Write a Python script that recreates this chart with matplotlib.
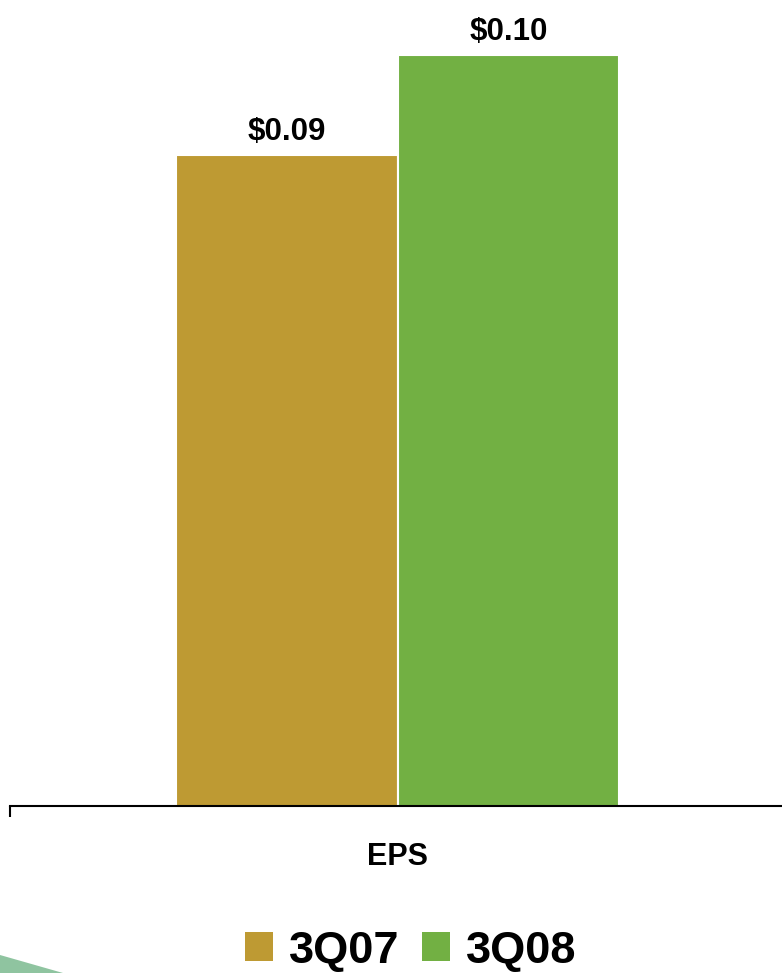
import matplotlib
matplotlib.use('Agg')
import matplotlib.pyplot as plt
from matplotlib.patches import Patch, Polygon
from matplotlib.font_manager import FontProperties

plt.rcParams['font.family'] = ['Liberation Sans', 'DejaVu Sans']

category = 'EPS'
periods  = ['3Q07', '3Q08']
eps      = [0.09, 0.10]
colors   = ['#BE9A33', '#72B043']

W, H = 782, 973
fig = plt.figure(figsize=(W / 100, H / 100), dpi=100)
ax  = fig.add_axes([10 / W, 167 / H, 772 / W, 806 / H])

offsets = [-0.5, 0.5]
for off, val, col in zip(offsets, eps, colors):
    ax.bar(off, val, width=1.0, color=col, edgecolor='white', linewidth=1.5)
    ax.text(off, val + 0.0008, f'${val:.2f}', ha='center', va='bottom',
            fontsize=22.5, fontweight='bold')

xmin, xmax = -1.752, 1.735
ax.set_xlim(xmin, xmax)
ax.set_ylim(0.025, 0.1055)

for s in ['top', 'right', 'left']:
    ax.spines[s].set_visible(False)
ax.spines['bottom'].set_linewidth(1.5)
ax.set_yticks([])
ax.set_xticks([0])
ax.set_xticklabels([category], fontsize=22, fontweight='bold')
ax.tick_params(axis='x', length=0, pad=26)
ax.set_xticks([xmin], minor=True)
ax.tick_params(axis='x', which='minor', length=8, width=1.5, direction='out')

handles = [Patch(facecolor=c, edgecolor='none') for c in colors]
legend_font = FontProperties(family=['Liberation Sans', 'DejaVu Sans'],
                             weight='bold', size=32.5)
fig.legend(handles, periods, loc='center', bbox_to_anchor=(411 / W, 1 - 951 / H),
           ncol=2, frameon=False, prop=legend_font,
           handlelength=0.62, handleheight=0.62, handletextpad=0.36,
           columnspacing=0.49, borderpad=0)

# decorative corner wedge
fig.patches.append(Polygon([(0, 0), (0, 18 / H), (63 / W, 0)], closed=True,
                           transform=fig.transFigure, facecolor='#8FC4A0',
                           edgecolor='none'))

fig.savefig('out.png', dpi=100)
